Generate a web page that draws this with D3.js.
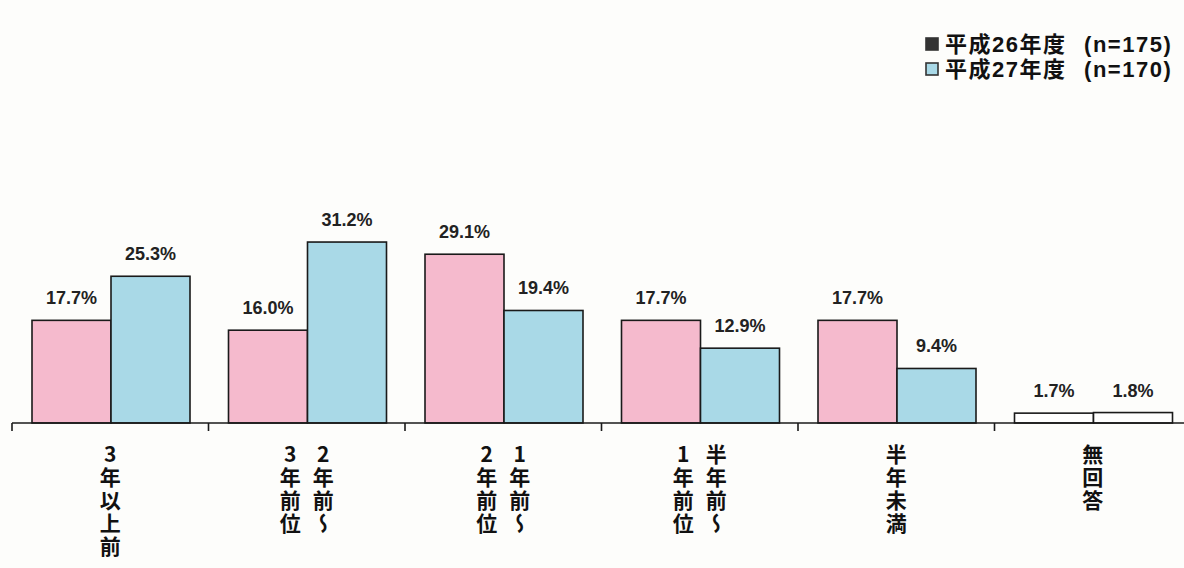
<!DOCTYPE html>
<html>
<head>
<meta charset="utf-8">
<script src="https://cdn.jsdelivr.net/npm/d3@7"></script>
<style>
  body { margin: 0; background: #fdfdfb; }
  svg { display: block; }
  .vlabel { writing-mode: vertical-rl; text-orientation: upright; }
</style>
</head>
<body>
<script>
// data
var categories = ["3年以上前", "2年前〜3年前位", "1年前〜2年前位", "半年前〜1年前位", "半年未満", "無回答"];
// label columns, left to right, as printed under each group
var labelColumns = [["3年以上前"], ["3年前位", "2年前〜"], ["2年前位", "1年前〜"], ["1年前位", "半年前〜"], ["半年未満"], ["無回答"]];
var seriesNames = ["平成26年度 (n=175)", "平成27年度 (n=170)"];
var values26 = [17.7, 16.0, 29.1, 17.7, 17.7, 1.7];
var values27 = [25.3, 31.2, 19.4, 12.9, 9.4, 1.8];

var width = 1184, height = 568;
var pink = "#f5bacd", blue = "#a9d9e7";

var svg = d3.select("body").append("svg")
  .attr("width", width)
  .attr("height", height);

svg.append("rect").attr("width", width).attr("height", height).attr("fill", "#fdfdfb");

var baseY = 423;

var x0 = d3.scaleBand()
  .domain(categories)
  .range([12, 12 + 6 * 196.5]);

var x1 = d3.scaleBand()
  .domain([0, 1])
  .range([20, 178]);

var y = d3.scaleLinear()
  .domain([0, 40])
  .range([baseY, baseY - 40 * 5.8]);

var rows = categories.map(function(c, i) {
  return { cat: c, i: i, vals: [values26[i], values27[i]] };
});

var g = svg.selectAll("g.grp")
  .data(rows)
  .enter().append("g")
  .attr("class", "grp")
  .attr("transform", function(d) { return "translate(" + x0(d.cat) + ",0)"; });

g.selectAll("rect")
  .data(function(d) { return d.vals.map(function(v, k) { return { v: v, k: k, last: d.i === categories.length - 1 }; }); })
  .enter().append("rect")
  .attr("x", function(d) { return x1(d.k); })
  .attr("width", x1.bandwidth())
  .attr("y", function(d) { return y(d.v); })
  .attr("height", function(d) { return y(0) - y(d.v); })
  .attr("fill", function(d) { return d.last ? "#ffffff" : (d.k === 0 ? pink : blue); })
  .attr("stroke", "#1a1a1a")
  .attr("stroke-width", 1.6);

g.selectAll("text.val")
  .data(function(d) { return d.vals.map(function(v, k) { return { v: v, k: k }; }); })
  .enter().append("text")
  .attr("class", "val")
  .attr("x", function(d) { return x1(d.k) + x1.bandwidth() / 2; })
  .attr("y", function(d) { return y(d.v) - 16; })
  .attr("text-anchor", "middle")
  .attr("font-family", "'Liberation Sans Narrow', 'Liberation Sans', Arial, sans-serif")
  .attr("font-weight", "bold")
  .attr("font-size", 18)
  .attr("fill", "#222")
  .text(function(d) { return d.v.toFixed(1) + "%"; });

// axis line with ticks at group boundaries
svg.append("line")
  .attr("x1", 12).attr("x2", width)
  .attr("y1", baseY).attr("y2", baseY)
  .attr("stroke", "#1a1a1a").attr("stroke-width", 1.6);

svg.selectAll("line.tick")
  .data(categories)
  .enter().append("line")
  .attr("class", "tick")
  .attr("x1", function(d) { return x0(d); })
  .attr("x2", function(d) { return x0(d); })
  .attr("y1", baseY).attr("y2", baseY + 8)
  .attr("stroke", "#1a1a1a").attr("stroke-width", 1.6);

// vertical category labels (columns read right to left)
var colGap = 33;
labelColumns.forEach(function(cols, i) {
  var cx = x0(categories[i]) + x0.bandwidth() / 2;
  cols.forEach(function(col, j) {
    var xc = cx + (j - (cols.length - 1) / 2) * colGap;
    svg.append("text")
      .attr("class", "vlabel")
      .attr("x", xc)
      .attr("y", 444)
      .attr("font-family", "'Noto Sans CJK JP', sans-serif")
      .attr("font-weight", "bold")
      .attr("font-size", 21)
      .attr("letter-spacing", 2)
      .attr("fill", "#111")
      .text(col);
  });
});

// legend
var legend = svg.selectAll("g.legend")
  .data(seriesNames)
  .enter().append("g")
  .attr("class", "legend")
  .attr("transform", function(d, i) { return "translate(926," + (38 + i * 25) + ")"; });

legend.append("rect")
  .attr("width", 12).attr("height", 12)
  .attr("fill", function(d, i) { return i === 0 ? "#333" : blue; })
  .attr("stroke", "#333").attr("stroke-width", 1.6);

legend.append("text")
  .attr("x", 19)
  .attr("y", 6)
  .attr("dominant-baseline", "central")
  .attr("font-family", "'Liberation Sans', 'Noto Sans CJK JP', sans-serif")
  .attr("font-weight", "bold")
  .attr("font-size", 22)
  .attr("letter-spacing", 1.5)
  .attr("word-spacing", 10)
  .attr("fill", "#111")
  .text(function(d) { return d; });
</script>
</body>
</html>
